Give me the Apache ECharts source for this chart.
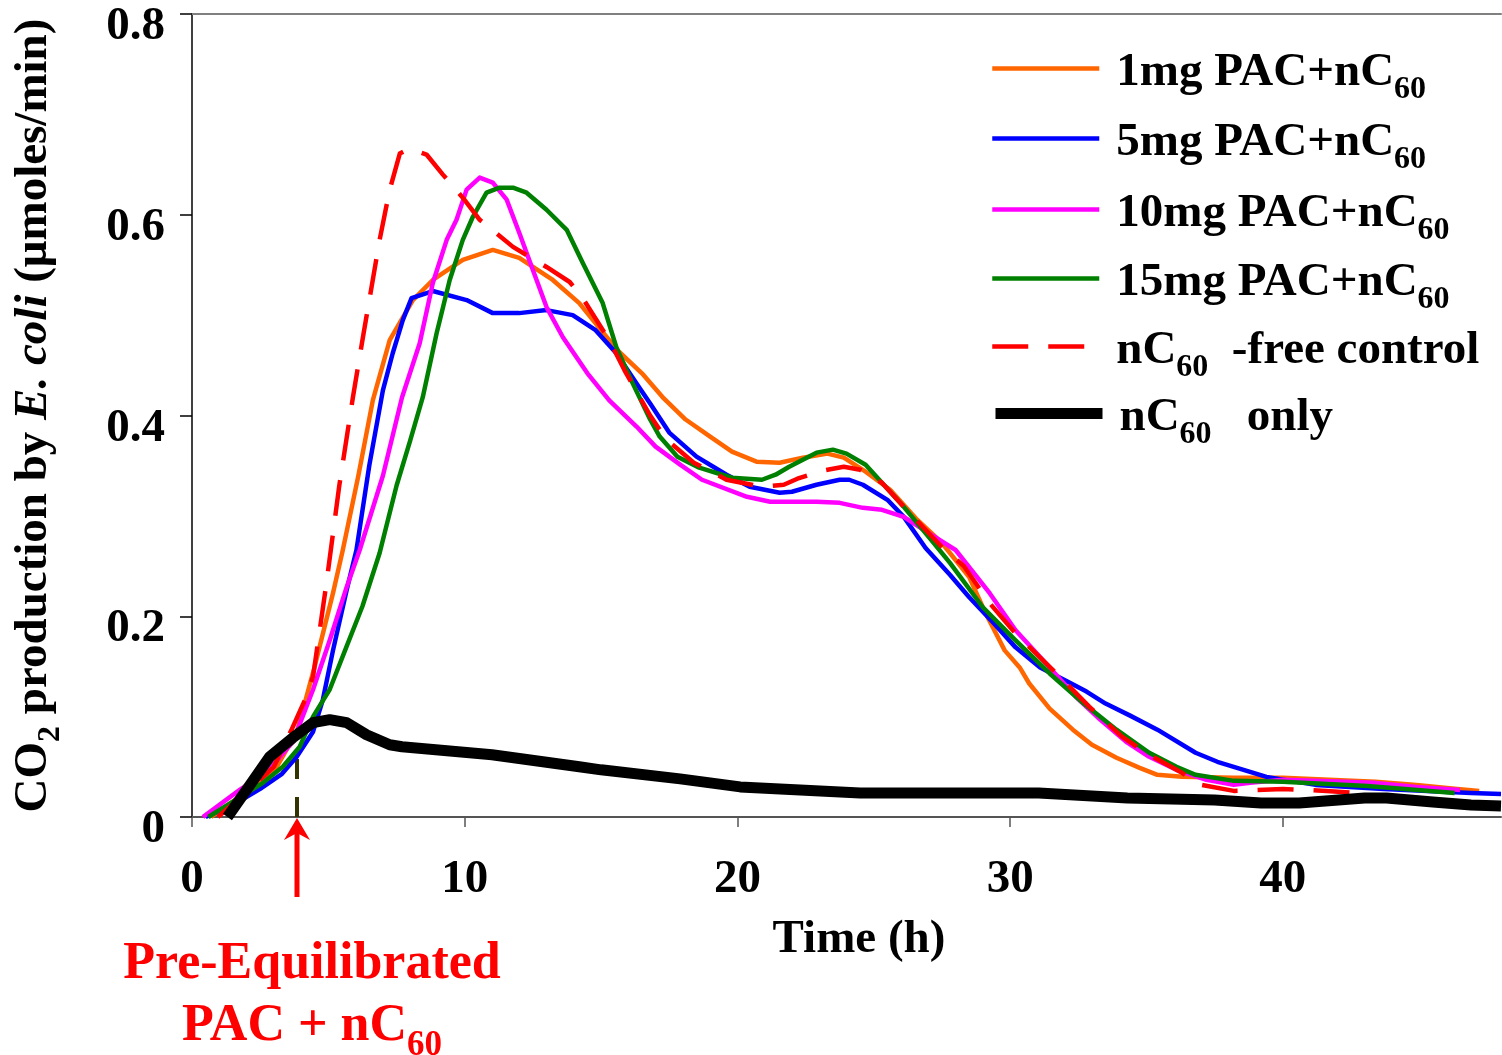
<!DOCTYPE html>
<html>
<head>
<meta charset="utf-8">
<script src="https://cdn.jsdelivr.net/npm/echarts@6/dist/echarts.min.js"></script>
<style>
  html, body { margin: 0; padding: 0; background: #fff; }
  #chart { width: 1502px; height: 1055px; }
</style>
</head>
<body>
<div id="chart"></div>
<script>
// CO2 production by E. coli over time for PAC + nC60 treatments
const FONT = '"Liberation Serif", "Times New Roman", serif';

const timeTicks = [0, 10, 20, 30, 40];
const yTicks = [0, 0.2, 0.4, 0.6, 0.8];

// time at which the pre-equilibrated PAC + nC60 was added (h)
const additionTime = 3.85;
const additionMarkerTop = 0.062;

// 1mg PAC+nC60
const t1mg = [0.7, 2.0, 3.0, 3.85, 4.5, 5.17, 5.53, 6.1, 6.63, 7.25, 8.1, 8.83, 9.93, 11.03, 12.0, 13.23, 14.2, 15.6, 16.5, 17.3, 18.1, 19.0, 19.8, 20.7, 21.55, 22.4, 23.3, 23.9, 24.7, 25.6, 26.6, 27.5, 28.5, 29.1, 29.8, 30.35, 30.7, 31.45, 32.3, 33.0, 33.9, 34.75, 35.4, 36.3, 38.2, 40.0, 43.4, 44.9, 46.4, 47.2];
const v1mg = [0, 0.025, 0.045, 0.085, 0.15, 0.223, 0.266, 0.34, 0.415, 0.475, 0.515, 0.535, 0.555, 0.565, 0.557, 0.535, 0.512, 0.465, 0.442, 0.417, 0.396, 0.379, 0.364, 0.354, 0.353, 0.358, 0.362, 0.358, 0.344, 0.326, 0.296, 0.273, 0.239, 0.203, 0.166, 0.149, 0.133, 0.108, 0.087, 0.072, 0.059, 0.049, 0.042, 0.040, 0.039, 0.039, 0.035, 0.032, 0.028, 0.026];

// 5mg PAC+nC60
const t5mg = [0.5, 1.5, 2.5, 3.3, 3.84, 4.44, 4.8, 5.17, 5.67, 6.03, 6.5, 7.0, 7.36, 7.73, 8.05, 8.83, 10.07, 11.03, 12.0, 13.0, 13.96, 14.8, 15.56, 16.4, 16.8, 17.5, 18.5, 19.6, 20.45, 21.55, 22.0, 22.9, 23.75, 24.1, 24.6, 25.5, 26.1, 26.9, 27.8, 28.5, 29.4, 30.2, 31.1, 32.1, 32.8, 33.5, 34.4, 35.4, 36.8, 37.6, 38.8, 39.4, 41.2, 43.7, 46.9, 48];
const v5mg = [0, 0.012, 0.028, 0.043, 0.06, 0.085, 0.117, 0.166, 0.226, 0.266, 0.35, 0.425, 0.462, 0.495, 0.517, 0.524, 0.515, 0.502, 0.502, 0.505, 0.50, 0.485, 0.462, 0.428, 0.412, 0.383, 0.359, 0.341, 0.329, 0.323, 0.324, 0.331, 0.336, 0.336, 0.331, 0.316, 0.299, 0.268, 0.241, 0.219, 0.193, 0.169, 0.149, 0.135, 0.125, 0.113, 0.101, 0.087, 0.064, 0.055, 0.045, 0.040, 0.032, 0.028, 0.024, 0.023];

// 10mg PAC+nC60
const t10mg = [0.4, 1.75, 2.75, 3.7, 4.44, 5.05, 5.67, 6.15, 7.0, 7.7, 8.35, 8.83, 9.34, 9.7, 10.07, 10.55, 11.03, 11.54, 12.0, 12.5, 13.0, 13.6, 14.5, 15.3, 16.3, 17.0, 17.9, 18.7, 20.35, 21.2, 22.9, 23.75, 24.6, 25.3, 26.1, 27.0, 28.0, 28.5, 29.25, 30.2, 31.45, 32.4, 33.3, 34.3, 35.1, 36.1, 37.2, 38.2, 38.8, 40.0, 43.4, 44.9, 46.5];
const v10mg = [0, 0.027, 0.045, 0.075, 0.127, 0.176, 0.229, 0.266, 0.34, 0.418, 0.472, 0.532, 0.575, 0.595, 0.625, 0.637, 0.632, 0.615, 0.582, 0.545, 0.508, 0.478, 0.442, 0.415, 0.389, 0.369, 0.351, 0.336, 0.319, 0.314, 0.314, 0.313, 0.308, 0.306, 0.299, 0.283, 0.266, 0.249, 0.223, 0.186, 0.149, 0.12, 0.097, 0.074, 0.06, 0.047, 0.037, 0.032, 0.034, 0.037, 0.034, 0.03, 0.027];

// 15mg PAC+nC60
const t15mg = [0.6, 2.6, 3.33, 3.95, 4.44, 5.05, 5.67, 6.25, 6.88, 7.5, 8.0, 8.46, 8.97, 9.45, 9.93, 10.3, 10.8, 11.28, 11.77, 12.27, 13.0, 13.74, 14.33, 15.06, 15.56, 16.16, 16.8, 17.15, 17.8, 18.6, 19.8, 20.9, 21.4, 21.9, 22.9, 23.5, 24.0, 24.7, 25.3, 26.1, 27.2, 27.8, 29.0, 30.2, 31.45, 32.7, 33.9, 35.1, 36.1, 36.8, 38.2, 40.0, 43.1, 46.3];
const v15mg = [0, 0.034, 0.05, 0.07, 0.1, 0.127, 0.17, 0.21, 0.263, 0.33, 0.375, 0.418, 0.482, 0.535, 0.575, 0.598, 0.622, 0.627, 0.627, 0.622, 0.605, 0.585, 0.552, 0.512, 0.468, 0.432, 0.396, 0.379, 0.359, 0.348, 0.338, 0.336, 0.341, 0.349, 0.363, 0.366, 0.362, 0.351, 0.333, 0.309, 0.273, 0.253, 0.209, 0.176, 0.143, 0.113, 0.087, 0.064, 0.05, 0.042, 0.036, 0.035, 0.031, 0.024];

// nC60-free control
const tControl = [0.95, 2.0, 3.0, 3.65, 4.2, 4.44, 4.93, 5.4, 5.9, 6.25, 6.88, 7.25, 7.62, 7.98, 8.6, 9.2, 9.93, 10.55, 11.77, 13.0, 13.85, 14.3, 15.3, 15.86, 16.8, 17.4, 18.4, 19.6, 20.9, 21.7, 22.2, 23.1, 23.9, 24.5, 25.3, 26.1, 27.5, 28.3, 29.25, 30.2, 31.7, 32.9, 34.1, 35.1, 36.3, 37.0, 38.2, 40.0, 41.6, 42.7];
const vControl = [0, 0.025, 0.05, 0.087, 0.12, 0.14, 0.233, 0.33, 0.418, 0.475, 0.575, 0.625, 0.661, 0.666, 0.66, 0.64, 0.617, 0.595, 0.568, 0.548, 0.533, 0.518, 0.475, 0.445, 0.40, 0.376, 0.353, 0.336, 0.329, 0.331, 0.337, 0.345, 0.349, 0.346, 0.333, 0.309, 0.269, 0.25, 0.213, 0.183, 0.143, 0.11, 0.08, 0.062, 0.044, 0.032, 0.026, 0.028, 0.026, 0.024];

// nC60 only
const tOnly = [1.3, 2.0, 2.85, 3.7, 4.44, 5.05, 5.67, 6.4, 7.25, 7.7, 11.0, 14.2, 15.0, 17.9, 20.1, 22.3, 24.5, 27.8, 31.05, 34.3, 37.5, 39.2, 40.6, 43.0, 43.8, 45.5, 46.9, 48];
const vOnly = [0, 0.027, 0.06, 0.079, 0.094, 0.097, 0.094, 0.082, 0.072, 0.07, 0.062, 0.05, 0.047, 0.038, 0.030, 0.027, 0.024, 0.024, 0.024, 0.019, 0.017, 0.014, 0.014, 0.019, 0.019, 0.015, 0.012, 0.011];

const seriesNames = ['1mg PAC+nC60', '5mg PAC+nC60', '10mg PAC+nC60', '15mg PAC+nC60', 'nC60 -free control', 'nC60 only'];
const seriesColors = ['#ff6600', '#0000ff', '#ff00ff', '#008000', '#ff0000', '#000000'];
const seriesWidths = [4.5, 4.5, 4.5, 4.5, 4.5, 11];
const seriesDash = ['solid', 'solid', 'solid', 'solid', [36, 20], 'solid'];
const legendLabels = [
  '{m|1mg PAC+nC}{s|60}',
  '{m|5mg PAC+nC}{s|60}',
  '{m|10mg PAC+nC}{s|60}',
  '{m|15mg PAC+nC}{s|60}',
  '{m|nC}{s|60}{m|  -free control}',
  '{m|nC}{s|60}{m|   only}'
];

const zip = (ts, vs) => ts.map((t, i) => [t, vs[i]]);
const seriesData = [zip(t1mg, v1mg), zip(t5mg, v5mg), zip(t10mg, v10mg), zip(t15mg, v15mg), zip(tControl, vControl), zip(tOnly, vOnly)];

function richSet(main, sub, lineH, color) {
  return {
    m: { fontFamily: FONT, fontWeight: 'bold', fontSize: main, lineHeight: lineH, color: color, verticalAlign: 'middle' },
    s: { fontFamily: FONT, fontWeight: 'bold', fontSize: sub, lineHeight: sub, color: color, verticalAlign: 'bottom' },
    i: { fontFamily: FONT, fontWeight: 'bold', fontStyle: 'italic', fontSize: main, lineHeight: lineH, color: color, verticalAlign: 'middle' }
  };
}

const chart = echarts.init(document.getElementById('chart'), null, { renderer: 'canvas' });

const legendRows = [68, 138, 209, 278, 346, 413];

const option = {
  backgroundColor: '#ffffff',
  animation: false,
  grid: { left: 192, top: 14, right: 1, bottom: 238, containLabel: false, outerBoundsMode: 'none' },
  legend: seriesNames.map((n, i) => ({
    data: [n],
    left: 990,
    top: legendRows[i] - 19,
    padding: 0,
    itemWidth: 107,
    itemHeight: 14,
    selectedMode: false,
    formatter: () => legendLabels[i],
    itemStyle: { opacity: 0 },
    lineStyle: { color: seriesColors[i], width: seriesWidths[i], type: seriesDash[i], cap: 'butt' },
    textStyle: {
      padding: [8, 0, 0, 12],
      rich: richSet(47, 32, 66, '#000')
    }
  })),
  xAxis: [{
    type: 'value',
    min: 0, max: 48,
    name: 'Time (h)',
    nameLocation: 'middle',
    nameGap: 99,
    nameTextStyle: { fontFamily: FONT, fontWeight: 'bold', fontSize: 47, color: '#000', padding: [0, 0, 0, 25] },
    axisLine: { show: true, lineStyle: { color: '#555', width: 2 } },
    axisTick: { show: true, inside: false, length: 10, customValues: timeTicks, lineStyle: { color: '#555', width: 1.5 } },
    axisLabel: { customValues: timeTicks, margin: 39, fontFamily: FONT, fontWeight: 'bold', fontSize: 47, color: '#000' },
    splitLine: { show: false }
  }, {
    type: 'value',
    position: 'top',
    min: 0, max: 48,
    axisLine: { show: true, onZero: false, lineStyle: { color: '#808080', width: 2 } },
    axisTick: { show: false },
    axisLabel: { show: false },
    splitLine: { show: false }
  }],
  yAxis: {
    type: 'value',
    min: 0, max: 0.8, interval: 0.2,
    name: '{m|CO}{s|2}{m| production by }{i|E. coli}{m| (μmoles/min)}',
    nameLocation: 'middle',
    nameGap: 125,
    nameTextStyle: { rich: richSet(47, 32, 66, '#000') },
    axisLine: { show: true, lineStyle: { color: '#000', width: 1.5 } },
    axisTick: { show: true, inside: false, length: 12, lineStyle: { color: '#000', width: 1.5 } },
    axisLabel: {
      margin: 27,
      verticalAlign: 'top',
      lineHeight: 26,
      fontFamily: FONT, fontWeight: 'bold', fontSize: 47, color: '#000',
      formatter: v => yTicks.includes(+v.toFixed(1)) ? (v === 0 ? '0' : v.toFixed(1)) : ''
    },
    splitLine: { show: false }
  },
  series: [
    {
      name: 'addition',
      type: 'line',
      data: [[additionTime, 0], [additionTime, additionMarkerTop]],
      symbol: 'none',
      lineStyle: { color: '#333300', width: 4, type: [20, 18] },
      emphasis: { disabled: true },
      silent: true
    }
  ].concat(seriesNames.map((n, i) => ({
    name: n,
    type: 'line',
    data: seriesData[i],
    symbol: 'none',
    smooth: false,
    lineStyle: { color: seriesColors[i], width: seriesWidths[i], type: seriesDash[i], cap: 'butt', join: 'round' },
    itemStyle: { color: seriesColors[i] },
    emphasis: { disabled: true }
  })))
};

chart.setOption(option);

// Red arrow and caption marking when the pre-equilibrated mixture was added
const ax = chart.convertToPixel({ xAxisIndex: 0 }, additionTime);
const base = chart.convertToPixel({ yAxisIndex: 0 }, 0);
const tipY = base + 1;
chart.setOption({
  graphic: [
    {
      type: 'line', silent: true,
      shape: { x1: ax, y1: tipY + 14, x2: ax, y2: tipY + 79 },
      style: { stroke: '#ff0000', lineWidth: 5 }
    },
    {
      type: 'polygon', silent: true,
      shape: { points: [[ax, tipY], [ax + 13, tipY + 22], [ax, tipY + 15], [ax - 13, tipY + 22]] },
      style: { fill: '#ff0000' }
    },
    {
      type: 'text', silent: true,
      x: ax + 15, y: base + 148,
      style: {
        text: 'Pre-Equilibrated',
        fill: '#ff0000',
        font: 'bold 52px ' + FONT,
        align: 'center', verticalAlign: 'middle'
      }
    },
    {
      type: 'text', silent: true,
      x: ax + 15, y: base + 210,
      style: {
        text: '{m|PAC + nC}{s|60}',
        align: 'center', verticalAlign: 'middle',
        rich: {
          m: { fontFamily: FONT, fontWeight: 'bold', fontSize: 52, lineHeight: 72, fill: '#ff0000', verticalAlign: 'middle' },
          s: { fontFamily: FONT, fontWeight: 'bold', fontSize: 35, lineHeight: 35, fill: '#ff0000', verticalAlign: 'bottom' }
        }
      }
    }
  ]
});
</script>
</body>
</html>
